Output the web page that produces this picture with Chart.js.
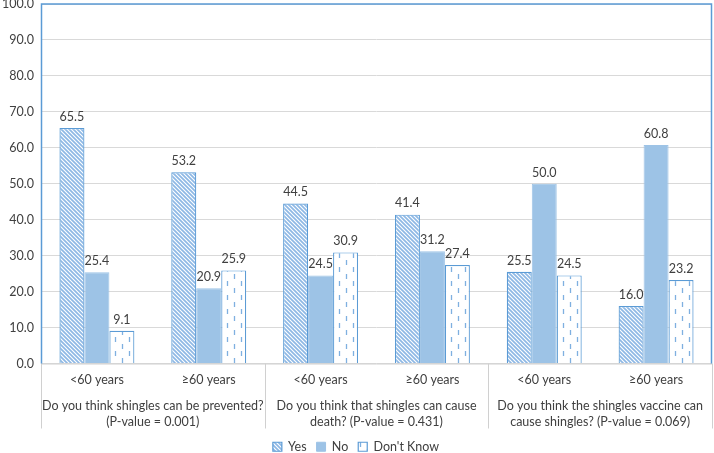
<!DOCTYPE html>
<html>
<head>
<meta charset="utf-8">
<script src="https://cdn.jsdelivr.net/npm/chart.js@4.4.1/dist/chart.umd.min.js"></script>
<style>
  html, body { margin: 0; padding: 0; background: #ffffff; }
  #wrap { width: 714px; height: 453px; }
</style>
</head>
<body>
<div id="wrap"><canvas id="c" width="714" height="453"></canvas></div>
<script>
const categories = ["<60 years", "\u226560 years", "<60 years", "\u226560 years", "<60 years", "\u226560 years"];
const groupLabels = [
  ["Do you think shingles can be prevented?", "(P-value = 0.001)"],
  ["Do you think that shingles can cause", "death? (P-value = 0.431)"],
  ["Do you think the shingles vaccine can", "cause shingles? (P-value = 0.069)"]
];
const seriesNames = ["Yes", "No", "Don't Know"];
const yesValues = [65.5, 53.2, 44.5, 41.4, 25.5, 16.0];
const noValues = [25.4, 20.9, 24.5, 31.2, 50.0, 60.8];
const dkValues = [9.1, 25.9, 30.9, 27.4, 24.5, 23.2];

const FONT = "Lato, 'Open Sans', sans-serif";
const FS = 12.5;
const TEXT = "#404040";
const BLUE = "#5B9BD5";
const LIGHT = "#9DC3E6";

function hatchPattern() {
  const p = document.createElement('canvas');
  p.width = 4; p.height = 4;
  const g = p.getContext('2d');
  g.fillStyle = '#ffffff'; g.fillRect(0, 0, 4, 4);
  g.strokeStyle = '#8EB8E5'; g.lineWidth = 1.7;
  g.beginPath();
  g.moveTo(-1, -1); g.lineTo(5, 5);
  g.moveTo(-1, 3); g.lineTo(1, 5);
  g.moveTo(3, -1); g.lineTo(5, 1);
  g.stroke();
  return g.createPattern(p, 'repeat');
}
function dashPattern() {
  const p = document.createElement('canvas');
  p.width = 14; p.height = 14;
  const g = p.getContext('2d');
  g.fillStyle = '#ffffff'; g.fillRect(0, 0, 14, 14);
  g.strokeStyle = '#7FB0E0'; g.lineWidth = 1.3;
  g.beginPath();
  g.moveTo(3.5, 1); g.lineTo(3.5, 6);
  g.moveTo(10.5, 8); g.lineTo(10.5, 13);
  g.stroke();
  return g.createPattern(p, 'repeat');
}

const ctx = document.getElementById('c').getContext('2d');
const hatch = hatchPattern();
const dash = dashPattern();

const decorPlugin = {
  id: 'decor',
  beforeDatasetsDraw(chart) {
    const { ctx, chartArea: a } = chart;
    ctx.save();
    ctx.strokeStyle = '#D0D0D0'; ctx.lineWidth = 1;
    ctx.beginPath(); ctx.moveTo(a.left, a.bottom + 0.5); ctx.lineTo(a.right, a.bottom + 0.5); ctx.stroke();
    const xs = chart.scales.x;
    const bounds = [a.left];
    for (let g = 1; g < groupLabels.length; g++) {
      bounds.push((xs.getPixelForValue(2 * g - 1) + xs.getPixelForValue(2 * g)) / 2);
    }
    bounds.push(a.right);
    ctx.beginPath();
    bounds.forEach(b => { const x = Math.round(b) + 0.5; ctx.moveTo(x, a.bottom); ctx.lineTo(x, a.bottom + 65); });
    ctx.stroke();
    ctx.fillStyle = TEXT; ctx.font = FS + "px " + FONT;
    ctx.textAlign = 'center'; ctx.textBaseline = 'middle';
    groupLabels.forEach((lines, g) => {
      const cx = (xs.getPixelForValue(2 * g) + xs.getPixelForValue(2 * g + 1)) / 2;
      lines.forEach((t, i) => ctx.fillText(t, cx, a.bottom + 42 + i * 16));
    });
    ctx.restore();
  },
  afterDatasetsDraw(chart) {
    const { ctx, chartArea: a } = chart;
    ctx.save();
    ctx.fillStyle = TEXT; ctx.font = FS + "px " + FONT;
    ctx.textAlign = 'center'; ctx.textBaseline = 'bottom';
    chart.data.datasets.forEach((ds, di) => {
      chart.getDatasetMeta(di).data.forEach((bar, i) => {
        ctx.fillText(ds.data[i].toFixed(1), bar.x, bar.y - 5);
      });
    });
    ctx.strokeStyle = BLUE; ctx.lineWidth = 1.5;
    ctx.beginPath();
    ctx.moveTo(a.left + 0.5, a.bottom); ctx.lineTo(a.left + 0.5, a.top);
    ctx.lineTo(a.right - 0.5, a.top); ctx.lineTo(a.right - 0.5, a.bottom);
    ctx.stroke();
    ctx.restore();
  }
};

new Chart(ctx, {
  type: 'bar',
  data: {
    labels: categories,
    datasets: [
      { label: seriesNames[0], data: yesValues, backgroundColor: hatch, borderColor: BLUE, borderWidth: 1.2 },
      { label: seriesNames[1], data: noValues, backgroundColor: LIGHT, borderColor: LIGHT, borderWidth: 1 },
      { label: seriesNames[2], data: dkValues, backgroundColor: dash, borderColor: BLUE, borderWidth: 1.2 }
    ]
  },
  options: {
    responsive: false,
    animation: false,
    devicePixelRatio: 1,
    layout: { padding: { top: 4, right: 2, left: 0, bottom: -10 } },
    datasets: { bar: { categoryPercentage: 0.67, barPercentage: 1.0 } },
    plugins: {
      legend: {
        position: 'bottom',
        labels: {
          boxWidth: 9, boxHeight: 9, padding: 10,
          color: TEXT, font: { family: FONT, size: FS }
        }
      },
      tooltip: { enabled: false }
    },
    scales: {
      x: {
        grid: { display: false, drawTicks: false },
        border: { display: false },
        ticks: { color: TEXT, font: { family: FONT, size: FS }, padding: 9, maxRotation: 0 },
        afterFit(s) { s.height = 67; s.paddingLeft = 0; s.paddingRight = 0; }
      },
      y: {
        min: 0, max: 100,
        border: { display: false },
        grid: { color: '#D9D9D9', drawTicks: false },
        ticks: {
          stepSize: 10, padding: 7, color: TEXT, font: { family: FONT, size: FS },
          callback: v => Number(v).toFixed(1)
        },
        afterFit(s) { s.width = 41; s.paddingTop = 0; s.paddingBottom = 0; }
      }
    }
  },
  plugins: [decorPlugin]
});
</script>
</body>
</html>
